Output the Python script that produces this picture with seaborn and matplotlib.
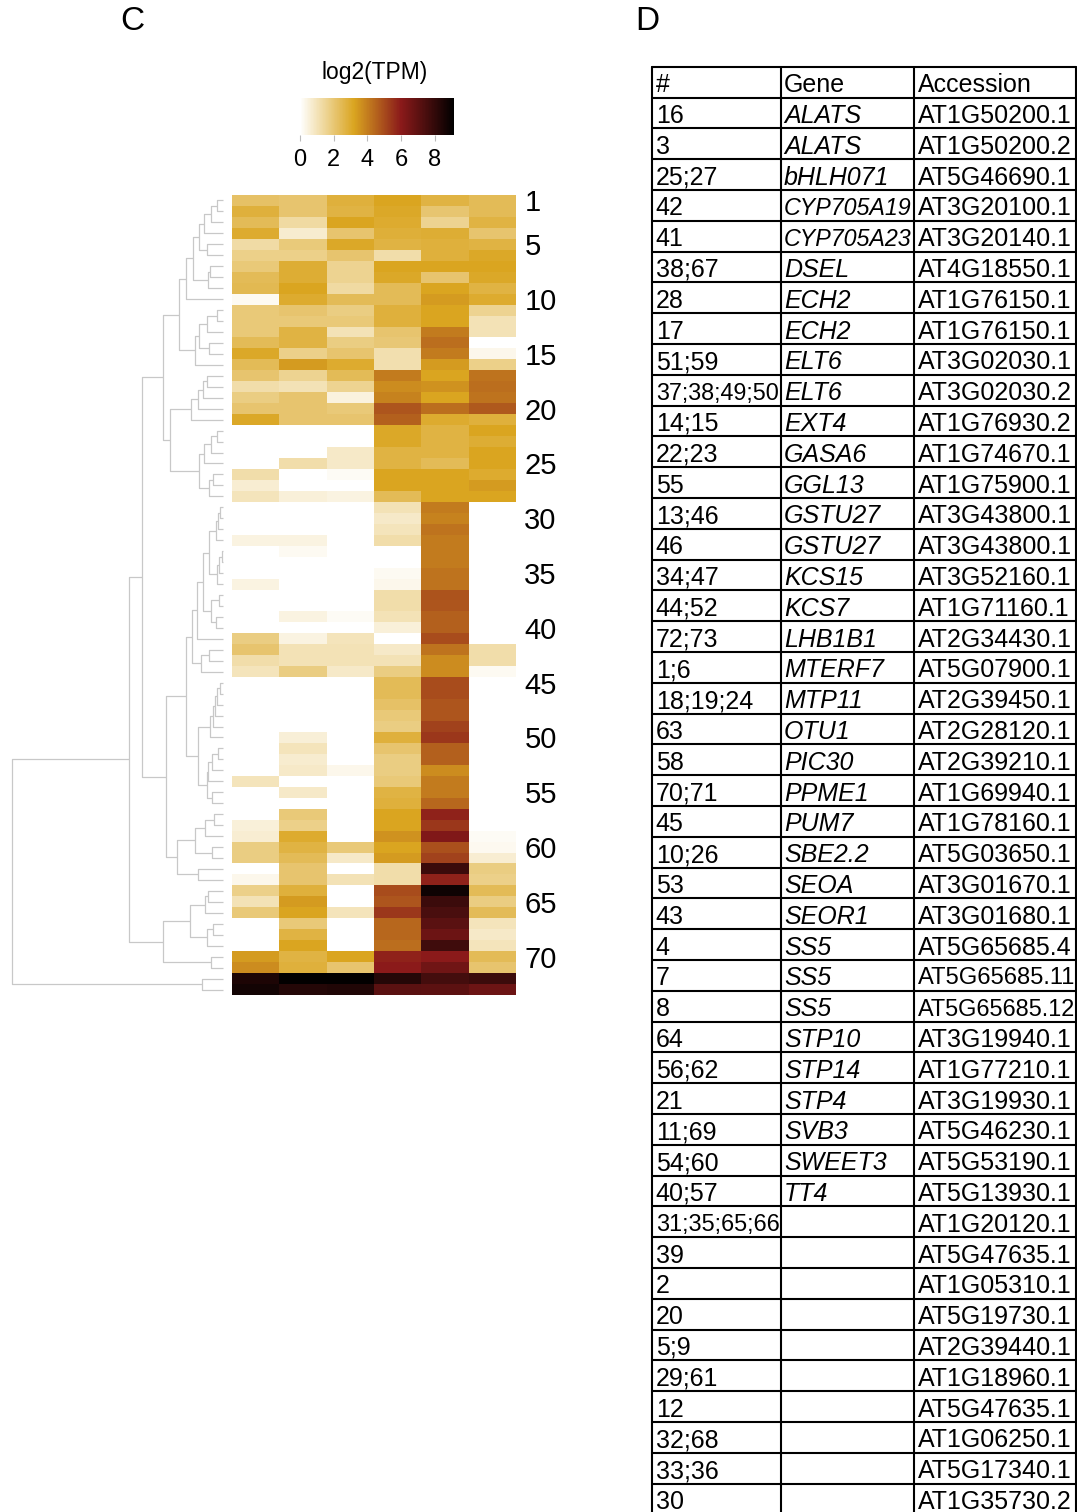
import numpy as np
import pandas as pd
import matplotlib
matplotlib.use("Agg")
import matplotlib.pyplot as plt
import seaborn as sns
from matplotlib.colors import LinearSegmentedColormap

sns.set_style("white")
plt.rcParams["font.family"] = ["Liberation Sans", "DejaVu Sans"]
plt.rcParams["text.color"] = "black"
plt.rcParams["xtick.labelcolor"] = "black"
plt.rcParams["ytick.labelcolor"] = "black"

# ---------------- heatmap data: log2(TPM), one list per sample column (rows 1..73) ----------------
sample1 = [2.2, 2.8, 2.4, 3.0, 1.3, 1.7, 1.95, 2.4, 2.5, 0.2,
           1.95, 1.95, 1.95, 2.4, 3.1, 2.4, 2.1, 1.25, 1.8, 2.1,
           3.1, 0, 0, 0, 0, 1.25, 0.65, 1.0, 0, 0,
           0, 0.45, 0, 0, 0, 0.45, 0, 0, 0, 0,
           1.8, 2.1, 1.25, 1.0, 0, 0, 0, 0, 0, 0,
           0, 0, 0, 1.0, 0, 0, 0, 0.55, 0.65, 1.8,
           1.8, 0, 0.32, 1.7, 1.07, 1.95, 0, 0, 0, 3.4,
           3.7, 8.5, 8.7]
sample2 = [2.1, 2.1, 1.35, 0.68, 1.9, 1.7, 2.9, 2.9, 3.2, 3.0,
           2.1, 1.95, 2.7, 2.7, 1.7, 3.4, 1.6, 1.07, 2.1, 2.1,
           2.1, 0, 0, 0, 1.25, 0, 0, 0.55, 0, 0,
           0, 0.45, 0.2, 0, 0, 0, 0, 0, 0.45, 0,
           0.45, 1.07, 1.07, 1.8, 0, 0, 0, 0, 0, 0.6,
           1.0, 0.68, 0.8, 0, 0.8, 0, 1.95, 1.7, 3.0, 2.7,
           2.4, 2.1, 2.1, 2.8, 3.4, 3.2, 1.95, 2.7, 3.2, 2.7,
           2.8, 9.1, 8.3]
sample3 = [2.8, 2.7, 3.2, 2.1, 3.1, 2.1, 1.6, 1.6, 1.35, 2.4,
           1.8, 1.95, 1.07, 1.8, 2.1, 3.0, 2.4, 1.6, 0.5, 1.95,
           2.1, 0, 0, 0.8, 0.8, 0.15, 0, 0.45, 0, 0,
           0, 0, 0, 0, 0, 0, 0, 0, 0.15, 0,
           1.0, 1.07, 1.07, 0.8, 0, 0, 0, 0, 0, 0,
           0, 0, 0.32, 0, 0, 0, 0, 0, 0, 1.95,
           0.8, 0, 1.07, 0, 0, 1.0, 0, 0, 0, 3.2,
           2.1, 9.1, 8.4]
sample4 = [3.2, 3.1, 3.0, 2.85, 2.7, 1.25, 3.2, 3.1, 2.4, 2.4,
           2.8, 2.8, 2.1, 2.0, 1.15, 1.15, 4.05, 3.7, 3.9, 4.8,
           4.6, 3.1, 3.1, 2.7, 2.7, 3.2, 3.2, 2.4, 1.07, 0.8,
           1.0, 1.25, 0, 0, 0.2, 0.32, 1.25, 1.25, 1.07, 0.55,
           0, 0.8, 1.07, 1.8, 2.4, 2.4, 2.2, 1.95, 1.8, 2.8,
           2.1, 1.8, 1.8, 1.95, 2.7, 2.8, 3.2, 3.2, 3.6, 3.2,
           3.4, 1.25, 1.25, 5.0, 4.8, 5.4, 4.45, 4.45, 4.3, 5.85,
           6.0, 8.3, 7.1]
sample5 = [2.7, 2.05, 1.6, 2.9, 2.8, 2.8, 3.2, 2.1, 3.2, 3.4,
           3.2, 3.2, 4.05, 4.3, 4.05, 3.4, 3.2, 3.6, 3.2, 4.3,
           3.0, 2.7, 2.7, 2.7, 2.4, 3.2, 3.2, 3.2, 4.05, 3.9,
           4.2, 4.05, 4.05, 4.05, 4.2, 4.2, 4.85, 4.8, 4.6, 4.6,
           5.0, 4.2, 3.7, 3.7, 5.0, 5.0, 4.8, 4.8, 5.2, 5.4,
           4.6, 4.6, 3.7, 4.05, 4.05, 4.45, 5.85, 5.4, 6.25, 4.9,
           5.2, 7.8, 5.85, 8.8, 7.8, 7.5, 7.1, 6.7, 7.7, 6.0,
           6.6, 7.6, 7.05]
sample6 = [2.4, 2.4, 2.7, 2.1, 2.7, 3.1, 3.2, 3.1, 2.7, 3.0,
           1.6, 1.07, 1.07, 0, 0.3, 1.7, 4.2, 4.3, 4.2, 4.75,
           2.8, 3.2, 2.9, 3.2, 3.2, 3.0, 3.4, 3.2, 0, 0,
           0, 0, 0, 0, 0, 0, 0, 0, 0, 0,
           0, 1.25, 1.25, 0.2, 0, 0, 0, 0, 0, 0,
           0, 0, 0, 0, 0, 0, 0, 0, 0.15, 0.25,
           0.65, 1.8, 1.7, 2.4, 1.8, 2.4, 1.0, 0.8, 1.0, 2.4,
           2.1, 7.8, 6.7]

row_ids = list(range(1, 74))
labelled_rows = [1, 5, 10, 15, 20, 25, 30, 35, 40, 45, 50, 55, 60, 65, 70]

# hierarchical clustering of the rows: (left, right, height); positive = row id,
# negative = earlier merge number (1-based)
row_linkage = [
    (1, 2, 6.3), (-1, 3, 12.3), (-2, 4, 19.0), (5, 6, 16.3), (-3, -4, 23.7),
    (7, 8, 13.0), (-6, 9, 14.7), (-5, -7, 29.7), (-8, 10, 37.0), (11, 12, 6.3),
    (-10, 13, 16.3), (14, 15, 13.7), (-11, -12, 24.3), (-13, 16, 28.3), (-9, -14, 43.7),
    (17, 18, 15.7), (-16, 19, 19.7), (-17, 20, 24.7), (-18, 21, 31.7), (22, 23, 6.3),
    (-20, 24, 12.3), (-21, 25, 19.0), (26, 27, 10.3), (-23, 28, 13.7), (-22, -24, 24.3),
    (-19, -25, 53.0), (-15, -26, 60.3), (29, 30, 3.0), (-28, 31, 5.3), (-29, 32, 7.0),
    (33, 34, 1.3), (-31, 35, 3.7), (-32, 36, 5.7), (-30, -33, 14.3), (37, 38, 3.7),
    (39, 40, 7.0), (-35, -36, 12.3), (-34, -37, 19.7), (-38, 41, 25.7), (42, 43, 13.7),
    (-40, 44, 22.3), (-39, -41, 31.3), (45, 46, 3.0), (-43, 47, 6.0), (-44, 48, 8.5),
    (-45, 49, 10.0), (-46, 50, 13.0), (51, 52, 5.3), (-48, 53, 11.3), (-49, 54, 14.7),
    (55, 56, 11.3), (-50, -51, 16.3), (-47, -52, 24.7), (-42, -53, 37.3), (57, 58, 9.0),
    (-55, 59, 18.0), (60, 61, 11.3), (-56, -57, 28.0), (62, 63, 24.7), (-58, -59, 46.3),
    (-54, -60, 57.3), (-27, -61, 80.7), (64, 65, 14.7), (-63, 66, 18.0), (67, 68, 10.0),
    (-65, 69, 16.3), (-64, -66, 33.0), (70, 71, 12.0), (-67, -68, 59.7), (-62, -69, 94.3),
    (72, 73, 20.7), (-70, -71, 211.3),
]

# ---------------- table data ----------------
table_header = ["#", "Gene", "Accession"]
table_ids = ["16", "3", "25;27", "42", "41", "38;67", "28", "17", "51;59", "37;38;49;50",
             "14;15", "22;23", "55", "13;46", "46", "34;47", "44;52", "72;73", "1;6", "18;19;24",
             "63", "58", "70;71", "45", "10;26", "53", "43", "4", "7", "8",
             "64", "56;62", "21", "11;69", "54;60", "40;57", "31;35;65;66", "39", "2", "20",
             "5;9", "29;61", "12", "32;68", "33;36", "30"]
table_genes = ["ALATS", "ALATS", "bHLH071", "CYP705A19", "CYP705A23", "DSEL", "ECH2", "ECH2",
               "ELT6", "ELT6", "EXT4", "GASA6", "GGL13", "GSTU27", "GSTU27", "KCS15", "KCS7",
               "LHB1B1", "MTERF7", "MTP11", "OTU1", "PIC30", "PPME1", "PUM7", "SBE2.2", "SEOA",
               "SEOR1", "SS5", "SS5", "SS5", "STP10", "STP14", "STP4", "SVB3", "SWEET3", "TT4",
               "", "", "", "", "", "", "", "", "", ""]
table_accessions = ["AT1G50200.1", "AT1G50200.2", "AT5G46690.1", "AT3G20100.1", "AT3G20140.1",
                    "AT4G18550.1", "AT1G76150.1", "AT1G76150.1", "AT3G02030.1", "AT3G02030.2",
                    "AT1G76930.2", "AT1G74670.1", "AT1G75900.1", "AT3G43800.1", "AT3G43800.1",
                    "AT3G52160.1", "AT1G71160.1", "AT2G34430.1", "AT5G07900.1", "AT2G39450.1",
                    "AT2G28120.1", "AT2G39210.1", "AT1G69940.1", "AT1G78160.1", "AT5G03650.1",
                    "AT3G01670.1", "AT3G01680.1", "AT5G65685.4", "AT5G65685.11", "AT5G65685.12",
                    "AT3G19940.1", "AT1G77210.1", "AT3G19930.1", "AT5G46230.1", "AT5G53190.1",
                    "AT5G13930.1", "AT1G20120.1", "AT5G47635.1", "AT1G05310.1", "AT5G19730.1",
                    "AT2G39440.1", "AT1G18960.1", "AT5G47635.1", "AT1G06250.1", "AT5G17340.1",
                    "AT1G35730.2"]

# ---------------- figure ----------------
W, H = 1077, 1512
fig = plt.figure(figsize=(W / 100, H / 100), dpi=100)


def px_axes(x0, y0, x1, y1):
    """Axes placed by pixel box (left, top, right, bottom)."""
    return fig.add_axes([x0 / W, 1 - y1 / H, (x1 - x0) / W, (y1 - y0) / H])


tpm_cmap = LinearSegmentedColormap.from_list(
    "tpm", [(0.0, "#ffffff"), (3.2 / 9.15, "#daa520"), (6.0 / 9.15, "#8b1a1a"), (1.0, "#000000")])

df = pd.DataFrame({"s1": sample1, "s2": sample2, "s3": sample3,
                   "s4": sample4, "s5": sample5, "s6": sample6}, index=row_ids)

# heatmap
ax_hm = px_axes(232, 195, 516, 995)
sns.heatmap(df, ax=ax_hm, cmap=tpm_cmap, vmin=0, vmax=9.15, cbar=False,
            xticklabels=False, yticklabels=False, linewidths=0)
ax_hm.set_yticks([r - 0.5 for r in labelled_rows])
ax_hm.set_yticklabels([str(r) for r in labelled_rows], fontsize=21, rotation=0, color="black")
ax_hm.yaxis.tick_right()
ax_hm.tick_params(axis="y", length=0, pad=6, labelright=True, labelleft=False)
ax_hm.set_xlabel("")
ax_hm.set_ylabel("")
for s in ax_hm.spines.values():
    s.set_visible(False)

# colour bar
ax_cb = px_axes(300, 98, 454, 135)
cb = fig.colorbar(ax_hm.collections[0], cax=ax_cb, orientation="horizontal", ticks=[0, 2, 4, 6, 8])
cb.outline.set_visible(False)
ax_cb.tick_params(axis="x", length=4, width=0.8, color="#bbbbbb", labelcolor="black",
                  labelsize=17, pad=6)
fig.text(375 / W, 1 - 73 / H, "log2(TPM)", ha="center", va="center", fontsize=16.5)

# dendrogram
root_h = row_linkage[-1][2]
ax_dg = px_axes(11.7, 195, 223, 995)
ax_dg.set_xlim(root_h, 0)
ax_dg.set_ylim(len(row_ids), 0)
ax_dg.axis("off")
node_pos = []


def locate(ref):
    if ref > 0:
        return row_ids.index(ref) + 0.5, 0.0
    return node_pos[-ref - 1]


line_kw = dict(color="#c8c8c8", lw=0.9, clip_on=False, solid_capstyle="butt")
for left, right, h in row_linkage:
    yl, hl = locate(left)
    yr, hr = locate(right)
    ax_dg.plot([hl, h, h, hr], [yl, yl, yr, yr], **line_kw)
    node_pos.append(((yl + yr) / 2, h))

# panel letters
fig.text(132 / W, 1 - 21 / H, "C", ha="center", va="center", fontsize=24)
fig.text(647 / W, 1 - 21 / H, "D", ha="center", va="center", fontsize=24)

# table
row_h = 30.8
n_rows = len(table_ids) + 1
ax_tb = px_axes(652.3, 66.7, 1075.7, 66.7 + n_rows * row_h)
tb_w = 1075.7 - 652.3
ax_tb.set_xlim(0, tb_w)
ax_tb.set_ylim(n_rows, 0)
ax_tb.axis("off")
col_edges = [0, 128.7, 261.4, tb_w]
for k in range(n_rows + 1):
    ax_tb.plot([0, tb_w], [k, k], color="black", lw=1.5, clip_on=False)
for xe in col_edges:
    ax_tb.plot([xe, xe], [0, n_rows], color="black", lw=1.5, clip_on=False)

renderer = fig.canvas.get_renderer()
text_x = [3.5, 131.5, 265.5]
base_size = 18


def cell_text(col, row, txt, italic=False):
    if not txt:
        return
    t = ax_tb.text(text_x[col], row + 0.6, txt, ha="left", va="center", fontsize=base_size,
                   style="italic" if italic else "normal", color="black")
    avail = (col_edges[col + 1] - col_edges[col] - 5) * (fig.dpi / 100.0)
    width = t.get_window_extent(renderer).width
    if width > avail:
        t.set_fontsize(base_size * avail / width)


for c, txt in enumerate(table_header):
    cell_text(c, 0, txt)
for r, (a, g, acc) in enumerate(zip(table_ids, table_genes, table_accessions), start=1):
    cell_text(0, r, a)
    cell_text(1, r, g, italic=True)
    cell_text(2, r, acc)

fig.savefig("out.png", dpi=100)
